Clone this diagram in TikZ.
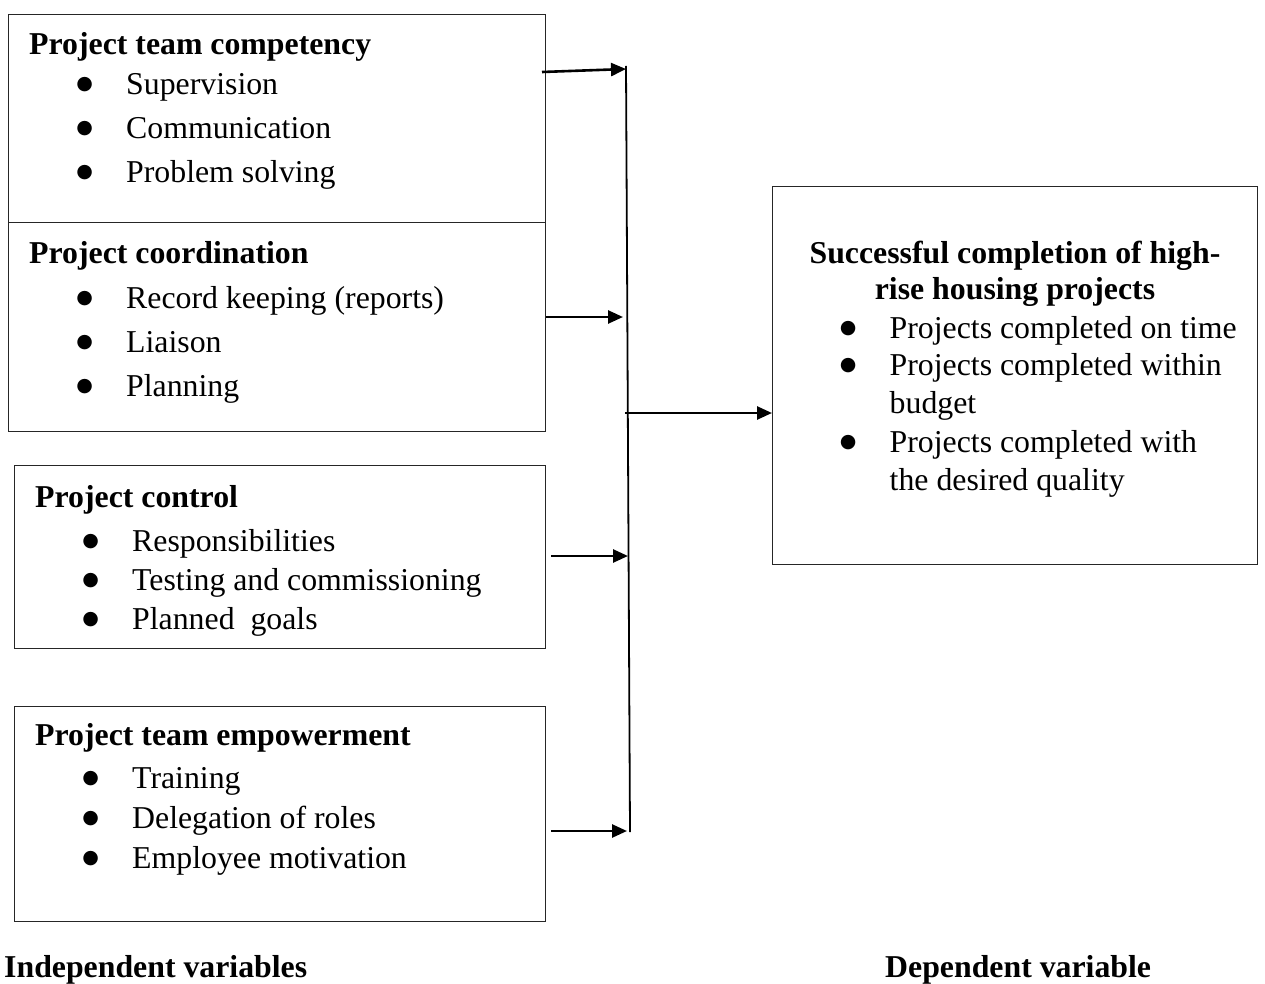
\documentclass[tikz,border=0pt]{standalone}
\usepackage{fontspec}
\setmainfont{Liberation Serif}
\newfontfamily\symfont{DejaVu Sans}
\usetikzlibrary{arrows.meta,calc}
\newcommand{\boxfont}[1]{\fontsize{31.8}{#1}\selectfont}
\newcommand{\head}[1]{\multicolumn{2}{@{}l@{}}{\bfseries #1}}
\newcommand{\bul}{\makebox[11pt][c]{\raisebox{5pt}{\symfont\fontsize{19}{19}\selectfont ●}}}

\begin{document}
\begin{tikzpicture}[x=1pt,y=-1pt,
    box/.style={draw=black!85,line width=1pt,anchor=north west,inner sep=0pt},
    txt/.style={anchor=base west,inner sep=0pt},
    arr/.style={-{Triangle[length=15pt,width=13pt]},line width=2.6pt}]
  \useasboundingbox (0,0) rectangle (1265,984);
  % independent variables
  \node[box,minimum width=537.5pt,minimum height=208pt] (comp) at (7.5,14) {};
  \node[box,minimum width=537.5pt,minimum height=209pt] (coord) at (7.5,222) {};
  \node[box,minimum width=531pt,minimum height=183pt] (ctrl) at (14,465) {};
  \node[box,minimum width=531pt,minimum height=215pt] (empw) at (14,706) {};
  \node[txt,font=\boxfont{44}] (compt) at (29,55) {\begin{tabular}[t]{@{\hspace{50pt}}c@{\hspace{36pt}}l@{}}
      \head{Project team competency}\\[-4pt]
      \bul & Supervision\\
      \bul & Communication\\
      \bul & Problem solving
    \end{tabular}};
  \node[txt,font=\boxfont{44.3}] (coordt) at (29,263) {\begin{tabular}[t]{@{\hspace{50pt}}c@{\hspace{36pt}}l@{}}
      \head{Project coordination}\\[1pt]
      \bul & Record keeping (reports)\\
      \bul & Liaison\\
      \bul & Planning
    \end{tabular}};
  \node[txt,font=\boxfont{39}] (ctrlt) at (35,507) {\begin{tabular}[t]{@{\hspace{50pt}}c@{\hspace{36pt}}l@{}}
      \head{Project control}\\[5pt]
      \bul & Responsibilities\\
      \bul & Testing and commissioning\\
      \bul & Planned\ \ goals
    \end{tabular}};
  \node[txt,font=\boxfont{40}] (empwt) at (35,745) {\begin{tabular}[t]{@{\hspace{50pt}}c@{\hspace{36pt}}l@{}}
      \head{Project team empowerment}\\[3pt]
      \bul & Training\\
      \bul & Delegation of roles\\
      \bul & Employee motivation
    \end{tabular}};
  % dependent variable
  \node[box,minimum width=485pt,minimum height=378pt] (succ) at (772,186) {};
  \node[anchor=base,inner sep=0pt,font=\boxfont{36}\bfseries] (succt) at (1015,263)
    {\begin{tabular}[t]{@{}c@{}}Successful completion of high-\\rise housing projects\end{tabular}};
  \node[txt,font=\boxfont{37.5}] (succl) at (842.5,338) {\begin{tabular}[t]{@{}c@{\hspace{36pt}}l@{}}
      \bul & Projects completed on time\\
      \bul & Projects completed within\\
       & budget\\[2pt]
      \bul & Projects completed with\\
       & the desired quality
    \end{tabular}};
  % bus line and arrows
  \coordinate (bustop) at (626,66);
  \coordinate (busbot) at (630,832);
  \coordinate (in1) at (626,69);
  \coordinate (in2) at (623,317);
  \coordinate (in3) at (628,556);
  \coordinate (in4) at (627,831);
  \coordinate (out) at (625,413);
  \draw[line width=1.8pt] (bustop) -- (busbot);
  \draw[arr] ($(comp.east |- in1)+(-4,3)$) -- (in1);
  \draw[arr] (coord.east |- in2) -- (in2);
  \draw[arr] ($(ctrl.east |- in3)+(5,0)$) -- (in3);
  \draw[arr] ($(empw.east |- in4)+(5,0)$) -- (in4);
  \draw[arr] (out) -- (succ.west |- out);
  % captions
  \node[txt,font=\boxfont{38}\bfseries] (indep) at (4,977) {Independent variables};
  \node[txt,font=\boxfont{38}\bfseries] (dep) at (885,977) {Dependent variable};
\end{tikzpicture}
\end{document}
